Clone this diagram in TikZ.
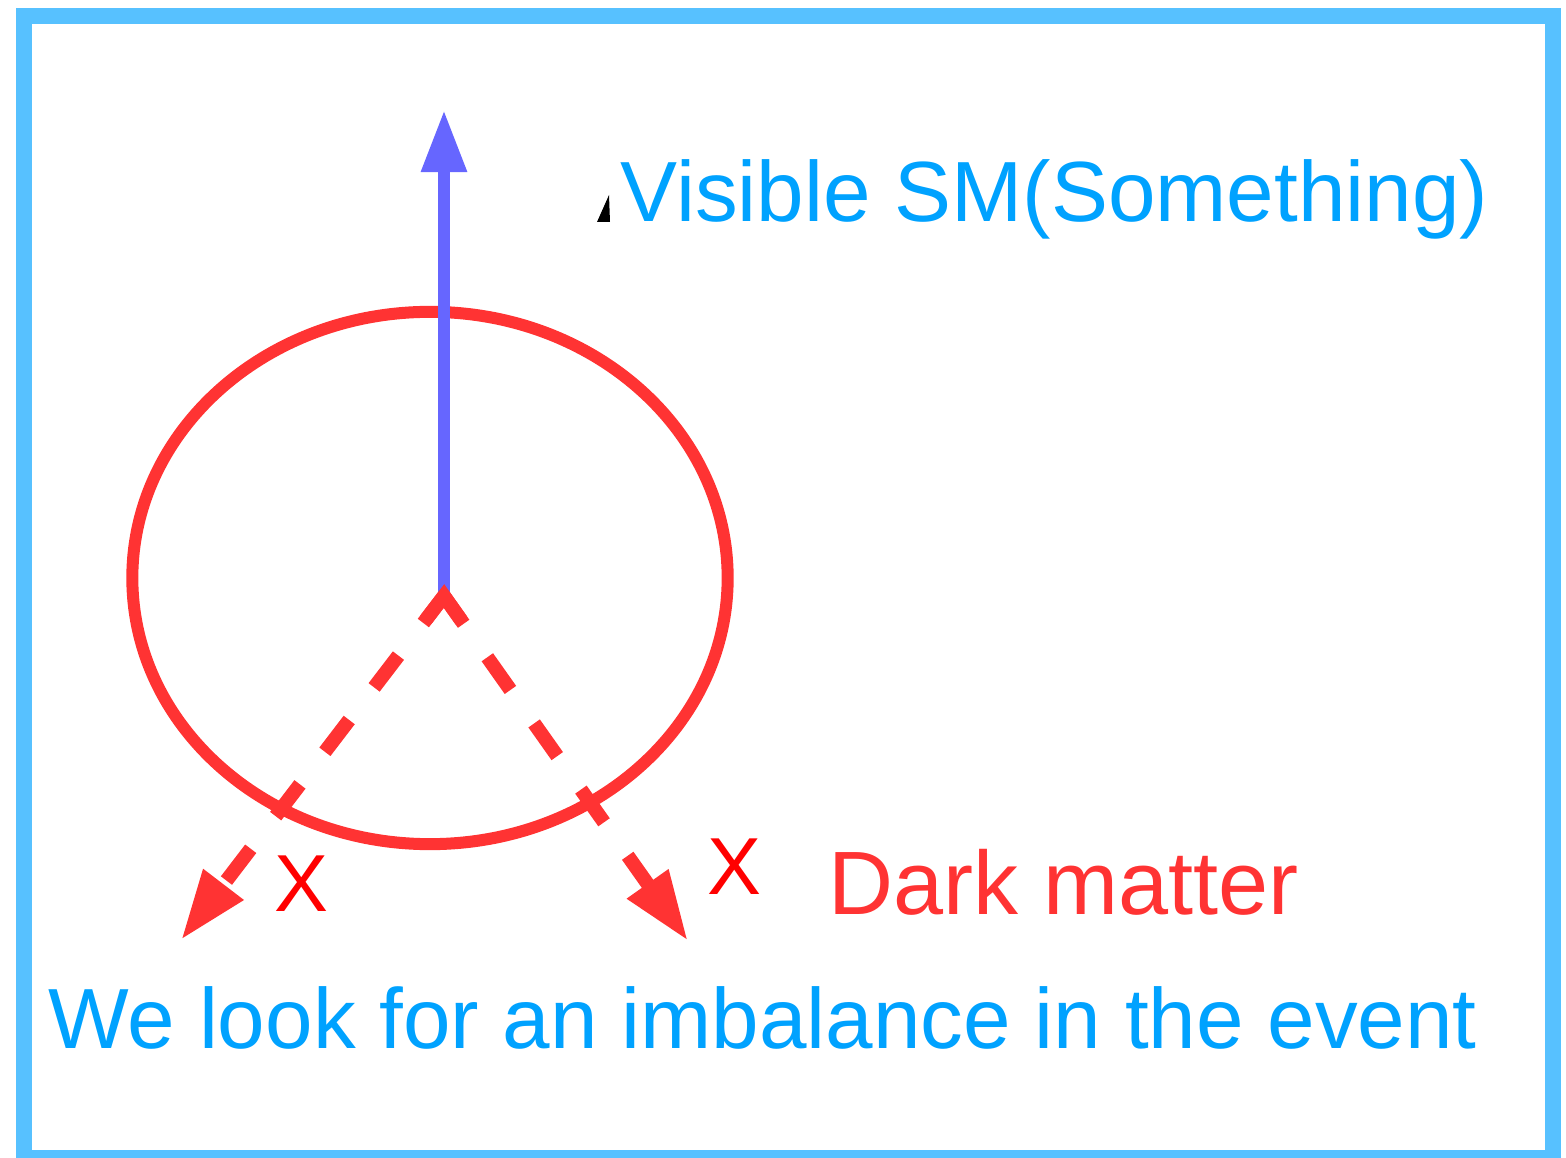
\documentclass[tikz,border=0pt]{standalone}
\usepackage{fontspec}
\setmainfont{Liberation Sans}
\usepackage{xcolor}
\definecolor{cframe}{HTML}{57C1FF}
\definecolor{ctext}{HTML}{00A2FF}
\definecolor{cred}{HTML}{FF3333}
\definecolor{cx}{HTML}{FF0000}
\definecolor{cvis}{HTML}{6666FF}
\usepackage{tikz}
\usetikzlibrary{arrows.meta,calc,shapes.geometric}

\begin{document}
\begin{tikzpicture}[
  x=0.01cm, y=-0.01cm,
  frame/.style={draw=cframe, line width=0.16cm},
  msg/.style={inner sep=0pt, anchor=base west, text=ctext, font=\fontsize{24.3}{28}\selectfont},
  xmark/.style={inner sep=0pt, anchor=base west, text=cx, font=\fontsize{23}{27}\selectfont},
  visline/.style={draw=cvis, line width=0.12cm, -{Triangle[length=0.62cm, width=0.43cm]}},
  dmline/.style={draw=cred, line width=0.14cm, dash pattern=on 0.40cm off 0.41cm, dash phase=0.06cm,
    -{Triangle[length=0.70cm, width=0.47cm]}},
]
  \useasboundingbox (0,0) rectangle (1566,1158);

  \node[ellipse, draw=cred, line width=0.12cm, minimum width=5.95cm, minimum height=5.32cm, inner sep=0pt] (event) at (430,578) {};

  \node[msg] (sm) at (620,222) {Visible SM(Something)};
  \node[msg, text=cred, font=\fontsize{25.6}{30}\selectfont] (dm) at (828,914) {Dark matter};
  \node[msg] (imb) at (48,1048) {We look for an imbalance in the event};
  \node[xmark] (xl) at (274,911) {X};
  \node[xmark] (xr) at (707,894) {X};

  \coordinate (apex) at (444,596);
  \coordinate (vistip) at (444,110);
  \coordinate (dmL) at (181,940);
  \coordinate (dmR) at (688,941);
  \coordinate (kL) at ($(apex)!0.3cm!(dmL)$);
  \coordinate (kR) at ($(apex)!0.3cm!(dmR)$);

  \draw[visline] (apex) -- (vistip);
  \draw[dmline] (apex) -- (dmL);
  \draw[dmline] (apex) -- (dmR);
  \draw[cred, line width=0.14cm, line join=miter] (kL) -- (apex) -- (kR);

  \fill (597,222) -- (609,195) -- (610,222) -- cycle;

  \draw[frame] (24,16) rectangle (1553,1158);
\end{tikzpicture}
\end{document}
